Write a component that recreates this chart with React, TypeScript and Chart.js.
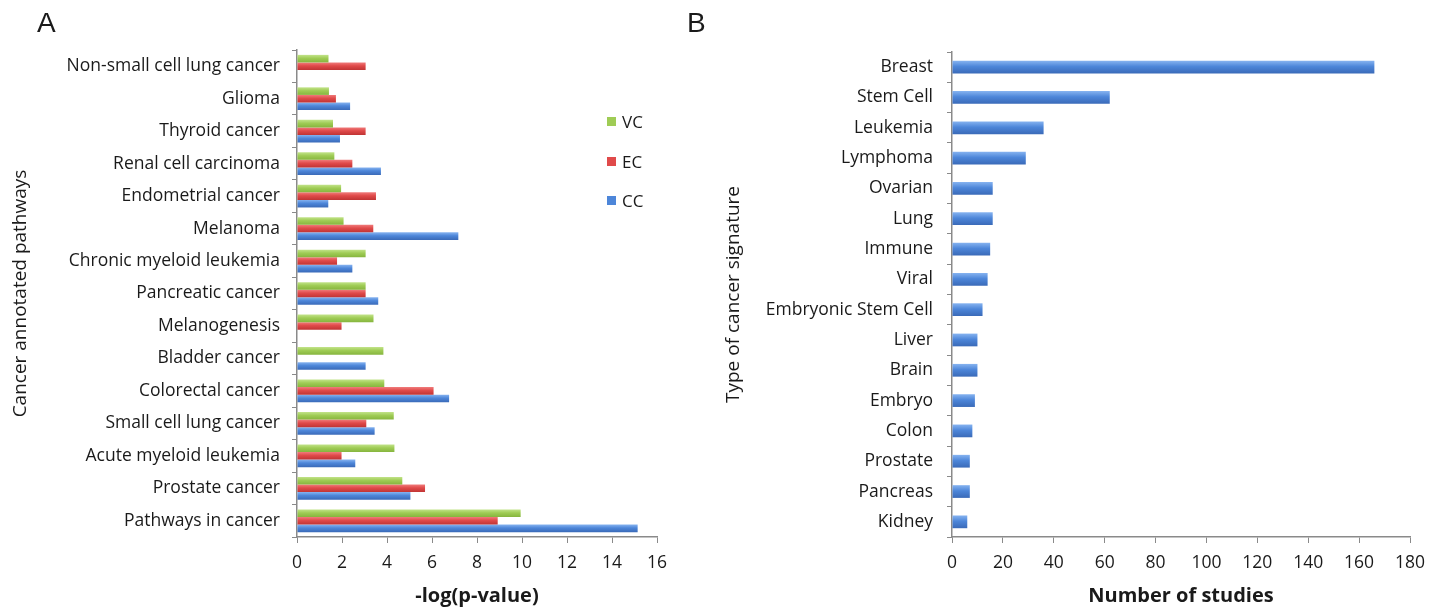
import React, { useEffect, useRef } from "react";
import { Chart, registerables } from "chart.js";

Chart.register(...registerables);

// ---------- Panel A data ----------
const pathwayLabels = [
  "Non-small cell lung cancer",
  "Glioma",
  "Thyroid cancer",
  "Renal cell carcinoma",
  "Endometrial cancer",
  "Melanoma",
  "Chronic myeloid leukemia",
  "Pancreatic cancer",
  "Melanogenesis",
  "Bladder cancer",
  "Colorectal cancer",
  "Small cell lung cancer",
  "Acute myeloid leukemia",
  "Prostate cancer",
  "Pathways in cancer",
];
const vcValues = [1.4, 1.42, 1.6, 1.66, 1.96, 2.07, 3.05, 3.05, 3.4, 3.84, 3.88, 4.3, 4.33, 4.68, 9.94];
const ecValues = [3.05, 1.73, 3.05, 2.46, 3.51, 3.39, 1.78, 3.05, 1.98, null, 6.07, 3.08, 1.98, 5.69, 8.92];
const ccValues = [null, 2.36, 1.91, 3.73, 1.39, 7.17, 2.46, 3.61, null, 3.05, 6.76, 3.45, 2.59, 5.04, 15.14];
const seriesNamesA = ["VC", "EC", "CC"];
const xMaxA = 16;
const xStepA = 2;

// ---------- Panel B data ----------
const signatureLabels = [
  "Breast",
  "Stem Cell",
  "Leukemia",
  "Lymphoma",
  "Ovarian",
  "Lung",
  "Immune",
  "Viral",
  "Embryonic Stem Cell",
  "Liver",
  "Brain",
  "Embryo",
  "Colon",
  "Prostate",
  "Pancreas",
  "Kidney",
];
const studyCounts = [166, 62, 36, 29, 16, 16, 15, 14, 12, 10, 10, 9, 8, 7, 7, 6];
const xMaxB = 180;
const xStepB = 20;

const GREEN = "#9fcc55";
const RED = "#e04a4a";
const BLUE = "#4d86d9";
const SHADES: Record<string, [string, string, string]> = {
  [GREEN]: ["#c2e38a", "#9fcc55", "#86b53e"],
  [RED]: ["#f07b7b", "#e04a4a", "#c03434"],
  [BLUE]: ["#86b3f0", "#4d86d9", "#3a6ab8"],
};
const AXIS = "#8a8a8a";
const TEXT = "#1a1a1a";
const FONT = "'Open Sans', sans-serif";

// gives each bar a soft top-to-bottom shading like the original's 3D bars
const shadePlugin = {
  id: "barShade",
  beforeDatasetsDraw(chart: any) {
    const ctx = chart.ctx;
    chart.data.datasets.forEach((ds: any, di: number) => {
      const meta = chart.getDatasetMeta(di);
      const shades = SHADES[ds.backgroundColor as string];
      if (!shades) return;
      meta.data.forEach((el: any) => {
        const { y, height } = el.getProps(["y", "height"], true);
        if (!isFinite(y) || !isFinite(height)) return;
        const g = ctx.createLinearGradient(0, y - height / 2, 0, y + height / 2);
        g.addColorStop(0, shades[0]);
        g.addColorStop(0.45, shades[1]);
        g.addColorStop(1, shades[2]);
        el.options = Object.assign({}, el.options, { backgroundColor: g });
      });
    });
  },
};

function useChart(ref: React.RefObject<HTMLCanvasElement>, build: (c: HTMLCanvasElement) => Chart) {
  useEffect(() => {
    if (!ref.current) return;
    const chart = build(ref.current);
    return () => chart.destroy();
  }, []);
}

export default function App() {
  const refA = useRef<HTMLCanvasElement>(null);
  const refB = useRef<HTMLCanvasElement>(null);

  useChart(refA as any, (c) =>
    new Chart(c, {
      type: "bar",
      data: {
        labels: pathwayLabels,
        datasets: [
          { label: seriesNamesA[0], data: vcValues as any, backgroundColor: GREEN },
          { label: seriesNamesA[1], data: ecValues as any, backgroundColor: RED },
          { label: seriesNamesA[2], data: ccValues as any, backgroundColor: BLUE },
        ],
      },
      plugins: [shadePlugin],
      options: {
        indexAxis: "y",
        responsive: false,
        animation: false,
        datasets: { bar: { categoryPercentage: 0.7, barPercentage: 1.0 } },
        layout: { padding: { top: 50, right: 43, left: 0, bottom: 0 } },
        plugins: { legend: { display: false }, tooltip: { enabled: false } },
        scales: {
          x: {
            min: 0,
            max: xMaxA,
            ticks: { stepSize: xStepA, color: TEXT, padding: 10, font: { family: FONT, size: 17.5 } },
            grid: { drawOnChartArea: false, tickLength: 6, color: AXIS },
            border: { color: AXIS, width: 1.5 },
            title: {
              display: true,
              text: "-log(p-value)",
              color: TEXT,
              font: { family: FONT, size: 20, weight: "bold" },
              padding: { top: 0, bottom: 3 },
            },
            afterFit: (s: any) => {
              s.height = 74;
            },
          },
          y: {
            ticks: { color: TEXT, padding: 12, font: { family: FONT, size: 17.5 } },
            grid: { drawOnChartArea: false, tickLength: 5, color: AXIS, offset: true },
            border: { color: AXIS, width: 1.5 },
            title: {
              display: true,
              text: "Cancer annotated pathways",
              color: TEXT,
              font: { family: FONT, size: 19 },
              padding: { top: 9, bottom: 0 },
            },
            afterFit: (s: any) => {
              s.width = 297;
            },
          },
        },
      },
    } as any)
  );

  useChart(refB as any, (c) =>
    new Chart(c, {
      type: "bar",
      data: {
        labels: signatureLabels,
        datasets: [{ label: "Studies", data: studyCounts, backgroundColor: BLUE }],
      },
      plugins: [shadePlugin],
      options: {
        indexAxis: "y",
        responsive: false,
        animation: false,
        datasets: { bar: { categoryPercentage: 1.0, barPercentage: 0.42 } },
        layout: { padding: { top: 52, right: 29, left: 0, bottom: 0 } },
        plugins: { legend: { display: false }, tooltip: { enabled: false } },
        scales: {
          x: {
            min: 0,
            max: xMaxB,
            ticks: { stepSize: xStepB, color: TEXT, padding: 10, font: { family: FONT, size: 17.5 } },
            grid: { drawOnChartArea: false, tickLength: 6, color: AXIS },
            border: { color: AXIS, width: 1.5 },
            title: {
              display: true,
              text: "Number of studies",
              color: TEXT,
              font: { family: FONT, size: 20, weight: "bold" },
              padding: { top: 0, bottom: 3 },
            },
            afterFit: (s: any) => {
              s.height = 74;
            },
          },
          y: {
            ticks: { color: TEXT, padding: 14, font: { family: FONT, size: 17.5 } },
            grid: { drawOnChartArea: false, tickLength: 5, color: AXIS, offset: true },
            border: { color: AXIS, width: 1.5 },
            title: {
              display: true,
              text: "Type of cancer signature",
              color: TEXT,
              font: { family: FONT, size: 19 },
              padding: { top: 22, bottom: 0 },
            },
            afterFit: (s: any) => {
              s.width = 252;
            },
          },
        },
      },
    } as any)
  );

  const legendItems = [
    { name: seriesNamesA[0], color: GREEN, top: 121 },
    { name: seriesNamesA[1], color: RED, top: 161 },
    { name: seriesNamesA[2], color: BLUE, top: 200 },
  ];

  return (
    <div style={{ position: "absolute", left: 0, top: 0, width: 1439, height: 611, background: "#fff", overflow: "hidden" }}>
      <canvas ref={refA} width={700} height={611} style={{ position: "absolute", left: 0, top: 0 }} />
      <canvas ref={refB} width={739} height={611} style={{ position: "absolute", left: 700, top: 0 }} />
      <div style={{ position: "absolute", left: 37, top: 7, fontFamily: "'Liberation Sans', Arial, sans-serif", fontSize: 28, color: TEXT }}>A</div>
      <div style={{ position: "absolute", left: 687, top: 7, fontFamily: "'Liberation Sans', Arial, sans-serif", fontSize: 28, color: TEXT }}>B</div>
      {legendItems.map((it) => (
        <div key={it.name} style={{ position: "absolute", left: 607, top: it.top - 12, height: 24, display: "flex", alignItems: "center", fontFamily: FONT, fontSize: 17, color: TEXT }}>
          <span style={{ display: "inline-block", width: 9, height: 9, background: it.color, marginRight: 6 }} />
          <span>{it.name}</span>
        </div>
      ))}
    </div>
  );
}
